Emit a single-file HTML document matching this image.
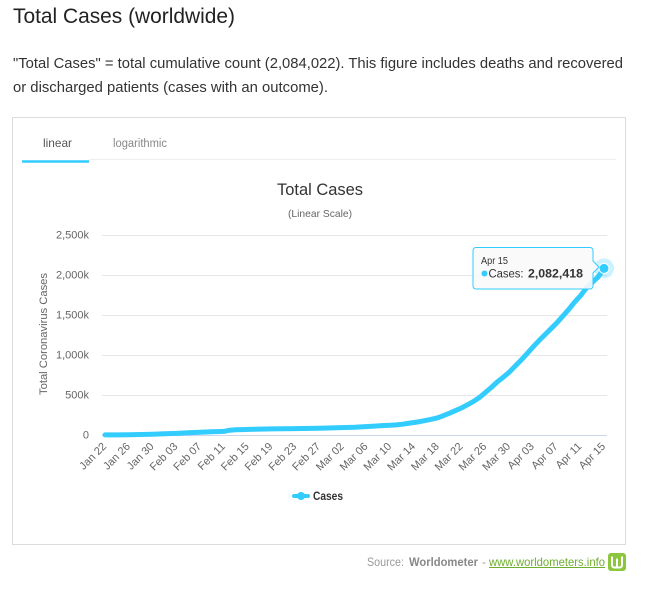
<!DOCTYPE html>
<html>
<head>
<meta charset="utf-8">
<style>
html,body{margin:0;padding:0;background:#fff;}
svg{display:block;}
text{font-family:"Liberation Sans",Arial,sans-serif;}
</style>
</head>
<body>
<svg width="650" height="590" viewBox="0 0 650 590" xmlns="http://www.w3.org/2000/svg">
  <rect x="0" y="0" width="650" height="590" fill="#fff"/>
  <!-- heading -->
  <text x="13" y="23" font-size="21" fill="#222" textLength="222" lengthAdjust="spacingAndGlyphs">Total Cases (worldwide)</text>
  <!-- paragraph -->
  <text x="13" y="68" font-size="14.5" fill="#333" textLength="610" lengthAdjust="spacingAndGlyphs">"Total Cases" = total cumulative count (2,084,022). This figure includes deaths and recovered</text>
  <text x="13" y="92" font-size="14.5" fill="#333" textLength="315" lengthAdjust="spacingAndGlyphs">or discharged patients (cases with an outcome).</text>

  <!-- card -->
  <rect x="12.5" y="117.5" width="613" height="427" fill="#fff" stroke="#dcdcdc" stroke-width="1"/>
  <!-- tabs -->
  <text x="43" y="147" font-size="12" fill="#555" textLength="29" lengthAdjust="spacingAndGlyphs">linear</text>
  <text x="113" y="147" font-size="11.5" fill="#888" textLength="54" lengthAdjust="spacingAndGlyphs">logarithmic</text>
  <line x1="89" y1="159.5" x2="616" y2="159.5" stroke="#eeeeee" stroke-width="1"/>
  <line x1="22" y1="161.5" x2="89" y2="161.5" stroke="#33ccff" stroke-width="2.5"/>

  <!-- chart titles -->
  <text x="320" y="195" font-size="16.5" fill="#333" text-anchor="middle" textLength="86" lengthAdjust="spacingAndGlyphs">Total Cases</text>
  <text x="320" y="217" font-size="10.5" fill="#666" text-anchor="middle" textLength="64" lengthAdjust="spacingAndGlyphs">(Linear Scale)</text>

  <!-- grid -->
  <g stroke="#e6e6e6" stroke-width="1">
    <line x1="102" y1="235.5" x2="607" y2="235.5"/>
    <line x1="102" y1="275.5" x2="607" y2="275.5"/>
    <line x1="102" y1="315.5" x2="607" y2="315.5"/>
    <line x1="102" y1="355.5" x2="607" y2="355.5"/>
    <line x1="102" y1="395.5" x2="607" y2="395.5"/>
  </g>
  <line x1="102" y1="435.5" x2="607" y2="435.5" stroke="#ccd6eb" stroke-width="1"/>

  <!-- y labels -->
  <g font-size="11" fill="#666" text-anchor="end">
    <text x="89" y="238.5">2,500k</text>
    <text x="89" y="278.5">2,000k</text>
    <text x="89" y="318.5">1,500k</text>
    <text x="89" y="358.5">1,000k</text>
    <text x="89" y="398.5">500k</text>
    <text x="89" y="438.5">0</text>
  </g>
  <text transform="translate(47,334) rotate(-90)" font-size="11" fill="#666" text-anchor="middle" textLength="122" lengthAdjust="spacingAndGlyphs">Total Coronavirus Cases</text>

  <!-- x labels -->
  <g font-size="11" fill="#666" text-anchor="end">
    <text transform="translate(107,447) rotate(-45)">Jan 22</text>
    <text transform="translate(130.8,447) rotate(-45)">Jan 26</text>
    <text transform="translate(154.5,447) rotate(-45)">Jan 30</text>
    <text transform="translate(178.3,447) rotate(-45)">Feb 03</text>
    <text transform="translate(202,447) rotate(-45)">Feb 07</text>
    <text transform="translate(225.8,447) rotate(-45)">Feb 11</text>
    <text transform="translate(249.6,447) rotate(-45)">Feb 15</text>
    <text transform="translate(273.3,447) rotate(-45)">Feb 19</text>
    <text transform="translate(297.1,447) rotate(-45)">Feb 23</text>
    <text transform="translate(320.9,447) rotate(-45)">Feb 27</text>
    <text transform="translate(344.6,447) rotate(-45)">Mar 02</text>
    <text transform="translate(368.4,447) rotate(-45)">Mar 06</text>
    <text transform="translate(392.1,447) rotate(-45)">Mar 10</text>
    <text transform="translate(415.9,447) rotate(-45)">Mar 14</text>
    <text transform="translate(439.7,447) rotate(-45)">Mar 18</text>
    <text transform="translate(463.4,447) rotate(-45)">Mar 22</text>
    <text transform="translate(487.2,447) rotate(-45)">Mar 26</text>
    <text transform="translate(511,447) rotate(-45)">Mar 30</text>
    <text transform="translate(534.7,447) rotate(-45)">Apr 03</text>
    <text transform="translate(558.5,447) rotate(-45)">Apr 07</text>
    <text transform="translate(582.2,447) rotate(-45)">Apr 11</text>
    <text transform="translate(606,447) rotate(-45)">Apr 15</text>
  </g>

  <!-- series -->
  <polyline fill="none" stroke="#33ccff" stroke-width="5" stroke-linejoin="round" stroke-linecap="round"
    points="105,434.9 116.9,434.9 128.8,434.8 140.6,434.5 152.5,434.2 164.4,433.8 176.3,433.4 188.2,432.7 200,432.2 211.9,431.8 223.8,431.4 229.8,430.2 235.7,429.8 241.6,429.6 253.5,429.3 271.3,428.9 295.1,428.6 318.9,428.3 336.7,427.8 354.5,427.2 372.3,426.2 384.2,425.5 390.1,425.3 396.1,424.9 402,424.3 408,423.4 413.9,422.5 419.8,421.6 425.8,420.4 431.7,419.2 437.7,417.8 443.6,415.6 449.5,413.2 455.5,410.6 461.4,408 467.4,404.8 473.3,401.6 479.3,397.6 485.2,392.6 491.1,387.6 497.1,382.1 503,377.4 509,372.4 514.9,366.4 520.8,360.4 526.8,353.9 532.7,347.3 538.7,340.9 544.6,335 550.5,329.2 556.5,323.2 562.4,316.6 568.4,309.8 574.3,302.4 580.2,296.1 586.2,288.2 592.1,282.6 598.1,276.9 604,268.4"/>
  <circle cx="604" cy="268.4" r="10" fill="#33ccff" fill-opacity="0.25"/>
  <circle cx="604" cy="268.4" r="5" fill="#33ccff" stroke="#fff" stroke-width="1"/>

  <!-- tooltip -->
  <path d="M476,247.5 H590 A3,3 0 0 1 593,250.5 V261 L599,267 L593,273 V286 A3,3 0 0 1 590,289 H476 A3,3 0 0 1 473,286 V250.5 A3,3 0 0 1 476,247.5 Z" fill="rgba(249,249,249,0.9)" stroke="#33ccff" stroke-width="1"/>
  <text x="481" y="264" font-size="10" fill="#333" textLength="27" lengthAdjust="spacingAndGlyphs">Apr 15</text>
  <circle cx="484.5" cy="273.5" r="3" fill="#33ccff"/>
  <text x="488.5" y="277.5" font-size="11.5" fill="#333" textLength="35" lengthAdjust="spacingAndGlyphs">Cases:</text>
  <text x="528" y="277.5" font-size="12" font-weight="bold" fill="#333" textLength="55" lengthAdjust="spacingAndGlyphs">2,082,418</text>

  <!-- legend -->
  <line x1="294" y1="496" x2="308" y2="496" stroke="#33ccff" stroke-width="4" stroke-linecap="round"/>
  <circle cx="301" cy="496" r="4" fill="#33ccff"/>
  <text x="313" y="500" font-size="11.5" font-weight="bold" fill="#333" textLength="30" lengthAdjust="spacingAndGlyphs">Cases</text>

  <!-- source -->
  <text x="367" y="566" font-size="12" fill="#999" textLength="37" lengthAdjust="spacingAndGlyphs">Source:</text>
  <text x="409" y="566" font-size="12" font-weight="bold" fill="#888" textLength="69" lengthAdjust="spacingAndGlyphs">Worldometer</text>
  <text x="482" y="566" font-size="12" fill="#999">-</text>
  <text x="489" y="566" font-size="12" fill="#6fae2d" textLength="116" lengthAdjust="spacingAndGlyphs">www.worldometers.info</text>
  <line x1="489" y1="567.5" x2="605" y2="567.5" stroke="#6fae2d" stroke-width="1"/>
  <rect x="608" y="553" width="18" height="18" rx="3" ry="3" fill="#8cc63f"/>
  <path d="M612,556.5 V565 A2.5,2.5 0 0 0 614.5,567.5 H619.5 A2.5,2.5 0 0 0 622,565 V556.5 M617,558.5 V567" fill="none" stroke="#fff" stroke-width="2"/>
</svg>
</body>
</html>
